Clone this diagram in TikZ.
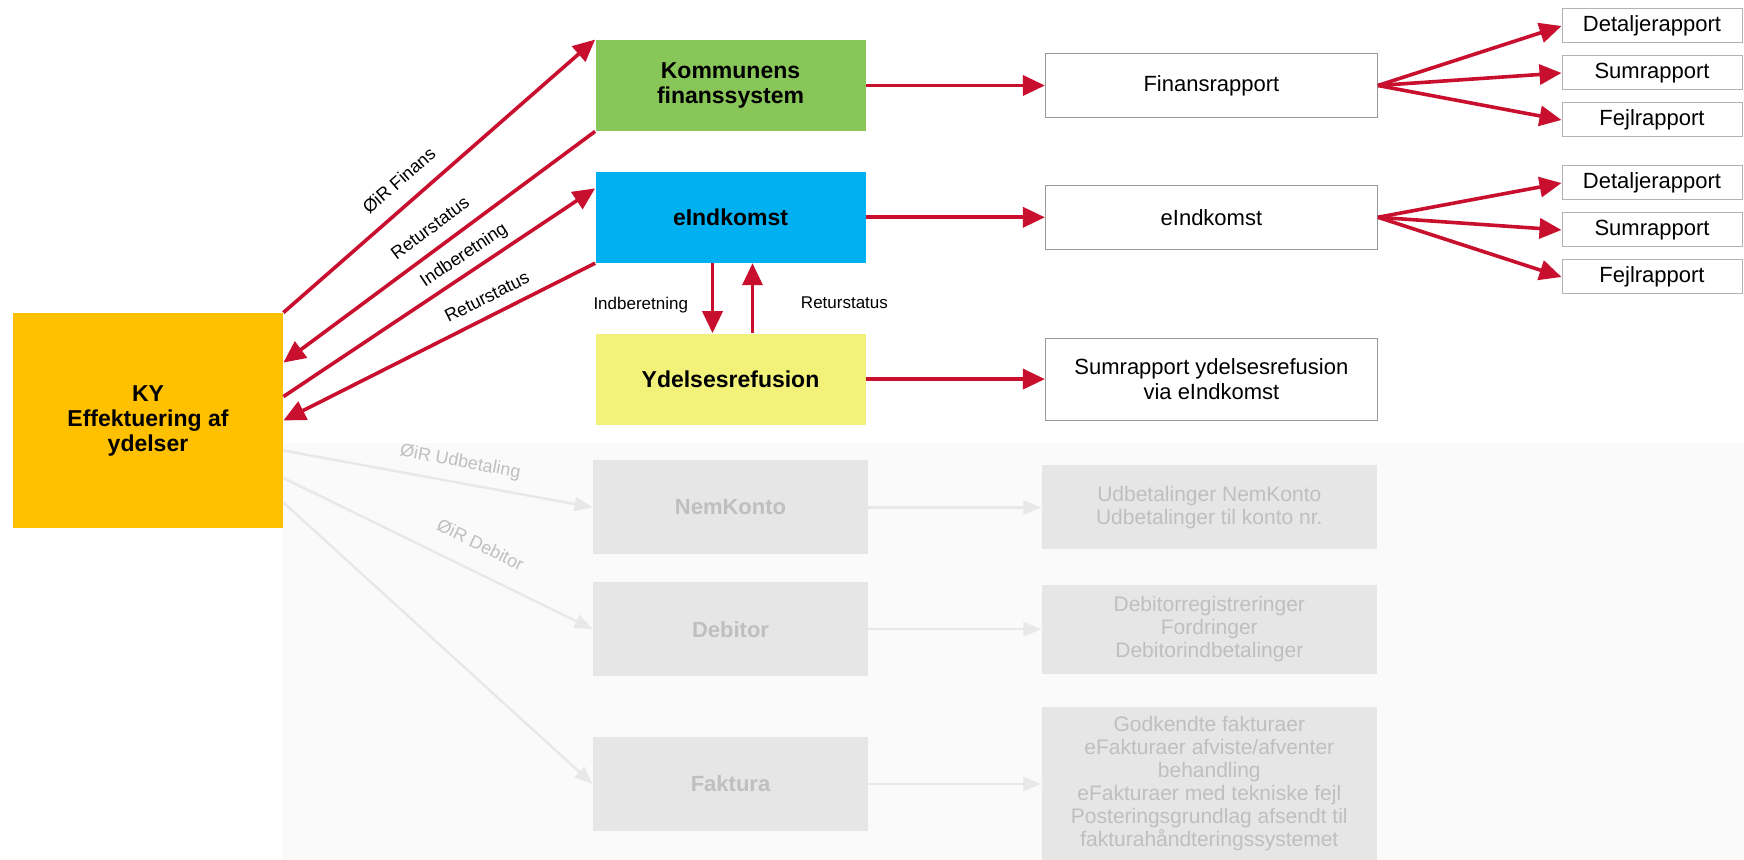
\documentclass[tikz,border=0pt]{standalone}
\usepackage{fontspec}
\setmainfont{Liberation Sans}
\usepackage{xcolor}
\usepackage{tikz}
\usetikzlibrary{positioning, arrows.meta}

\definecolor{kyorange}{HTML}{FFC000}
\definecolor{fingreen}{HTML}{89C659}
\definecolor{indblue}{HTML}{00B0F0}
\definecolor{refyellow}{HTML}{F2F27A}
\definecolor{flowred}{HTML}{C8102E}
\definecolor{greyfill}{HTML}{E6E6E6}
\definecolor{greytext}{HTML}{BFBFBF}
\definecolor{greyline}{HTML}{E8E8E8}
\definecolor{greyzone}{HTML}{FAFAFA}

\begin{document}
\begin{tikzpicture}[x=1pt, y=1pt,
    kybox/.style={rectangle, fill=kyorange, minimum width=135pt, minimum height=107.5pt, align=center, font=\bfseries\fontsize{11.5}{12.5}\selectfont},
    sysbox/.style={rectangle, minimum width=135pt, minimum height=45.5pt, align=center, font=\bfseries\fontsize{11.5}{12.5}\selectfont},
    report/.style={rectangle, draw=black!40, fill=white, line width=0.5pt, minimum width=166pt, align=center, font=\fontsize{11}{12.5}\selectfont},
    subreport/.style={rectangle, draw=black!30, fill=white, line width=0.5pt, minimum width=90pt, minimum height=17pt, inner sep=0pt, font=\fontsize{11}{12}\selectfont},
    greybox/.style={rectangle, fill=greyfill, text=greytext, minimum width=137.5pt, minimum height=47pt, align=center, font=\bfseries\fontsize{11}{12.5}\selectfont},
    greyreport/.style={rectangle, fill=greyfill, text=greytext, minimum width=167.5pt, align=center, font=\fontsize{10.5}{11.5}\selectfont},
    flow/.style={draw=flowred, line width=1.8pt, -{Triangle[length=11pt, width=10pt]}},
    greyflow/.style={draw=greyline, line width=1.2pt, -{Triangle[length=9pt, width=7pt]}},
    lbl/.style={font=\fontsize{9}{10}\selectfont, sloped, above=2pt},
    greylbl/.style={font=\fontsize{9}{10}\selectfont, text=greytext, sloped, above=2pt},
    sidelbl/.style={font=\fontsize{8.5}{10}\selectfont}]

    \useasboundingbox (0,0) rectangle (872,-430);
    \fill[greyzone] (141,-221.5) rectangle (872,-430);

    % Nodes
    \node[kybox]                  (ky)                            at (74,-210.25)   {KY\\Effektuering af\\ydelser};
    \node[sysbox, fill=fingreen]  (kfin)                          at (365.25,-42.75) {Kommunens\\finanssystem};
    \node[sysbox, fill=indblue]   (eind)  [below=20pt of kfin]    {eIndkomst};
    \node[sysbox, fill=refyellow] (yref)  [below=35pt of eind]    {Ydelsesrefusion};
    \node[greybox]                (nemk)  [below=17.5pt of yref]  {NemKonto};
    \node[greybox]                (debi)  [below=13.5pt of nemk]  {Debitor};
    \node[greybox]                (fakt)  [below=30pt of debi]    {Faktura};

    % Reports
    \node[report, minimum height=32pt]       (finr)  [right=89.5pt of kfin]  {Finansrapport};
    \node[report, minimum height=32pt]       (eindr) [right=89.5pt of eind]  {eIndkomst};
    \node[report, minimum height=41pt]       (sumr)  [right=89.5pt of yref]  {Sumrapport ydelsesrefusion\\via eIndkomst};
    \node[greyreport, minimum height=42pt]   (udb)   [right=86.5pt of nemk]  {Udbetalinger NemKonto\\Udbetalinger til konto nr.};
    \node[greyreport, minimum height=44.5pt] (debr)  [right=86.5pt of debi]  {Debitorregistreringer\\Fordringer\\Debitorindbetalinger};
    \node[greyreport, minimum height=77.5pt] (fakr)  [right=86.5pt of fakt]  {Godkendte fakturaer\\eFakturaer afviste/afventer\\behandling\\eFakturaer med tekniske fejl\\Posteringsgrundlag afsendt til\\fakturahåndteringssystemet};

    \node[subreport] (det1)                         at (826,-13) {Detaljerapport};
    \node[subreport] (sum1)  [below=6pt of det1]    {Sumrapport};
    \node[subreport] (fejl1) [below=6pt of sum1]    {Fejlrapport};
    \node[subreport] (det2)  [below=14pt of fejl1]  {Detaljerapport};
    \node[subreport] (sum2)  [below=6pt of det2]    {Sumrapport};
    \node[subreport] (fejl2) [below=6pt of sum2]    {Fejlrapport};

    % Lines ---------------
    \draw[flow] (ky.north east) -- node[lbl, pos=0.42, above=4pt] {ØiR Finans} (kfin.north west);
    \draw[flow] (kfin.south west) -- node[lbl, pos=0.49, above=3pt] {Returstatus} ([yshift=-25pt]ky.north east);
    \draw[flow] ([yshift=-42pt]ky.north east) -- node[lbl, pos=0.61, above=0pt] {Indberetning} ([yshift=-8.5pt]eind.north west);
    \draw[flow] (eind.south west) -- node[lbl, pos=0.32] {Returstatus} (ky.east);
    \draw[flow] ([xshift=-9pt]eind.south) -- node[sidelbl, left=8pt, pos=0.6] {Indberetning} ([xshift=-9pt]yref.north);
    \draw[flow] ([xshift=11pt]yref.north) -- node[sidelbl, right=20pt, pos=0.43] {Returstatus} ([xshift=11pt]eind.south);

    \draw[flow] (kfin.east) -- (finr.west);
    \draw[flow] (eind.east) -- (eindr.west);
    \draw[flow] (yref.east) -- (sumr.west);

    % Fan out
    \draw[flow] (finr.east) -- (det1.west);
    \draw[flow] (finr.east) -- (sum1.west);
    \draw[flow] (finr.east) -- (fejl1.west);
    \draw[flow] (eindr.east) -- (det2.west);
    \draw[flow] (eindr.east) -- (sum2.west);
    \draw[flow] (eindr.east) -- (fejl2.west);

    % Greyed out
    \draw[greyflow] ([yshift=-15pt]ky.east) -- node[greylbl, pos=0.56] {ØiR Udbetaling} (nemk.west);
    \draw[greyflow] ([yshift=-28.75pt]ky.east) -- node[greylbl, pos=0.6, above=6pt] {ØiR Debitor} (debi.west);
    \draw[greyflow] ([yshift=-41pt]ky.east) -- (fakt.west);
    \draw[greyflow] (nemk.east) -- (udb.west);
    \draw[greyflow] (debi.east) -- (debr.west);
    \draw[greyflow] (fakt.east) -- (fakr.west);

\end{tikzpicture}
\end{document}
